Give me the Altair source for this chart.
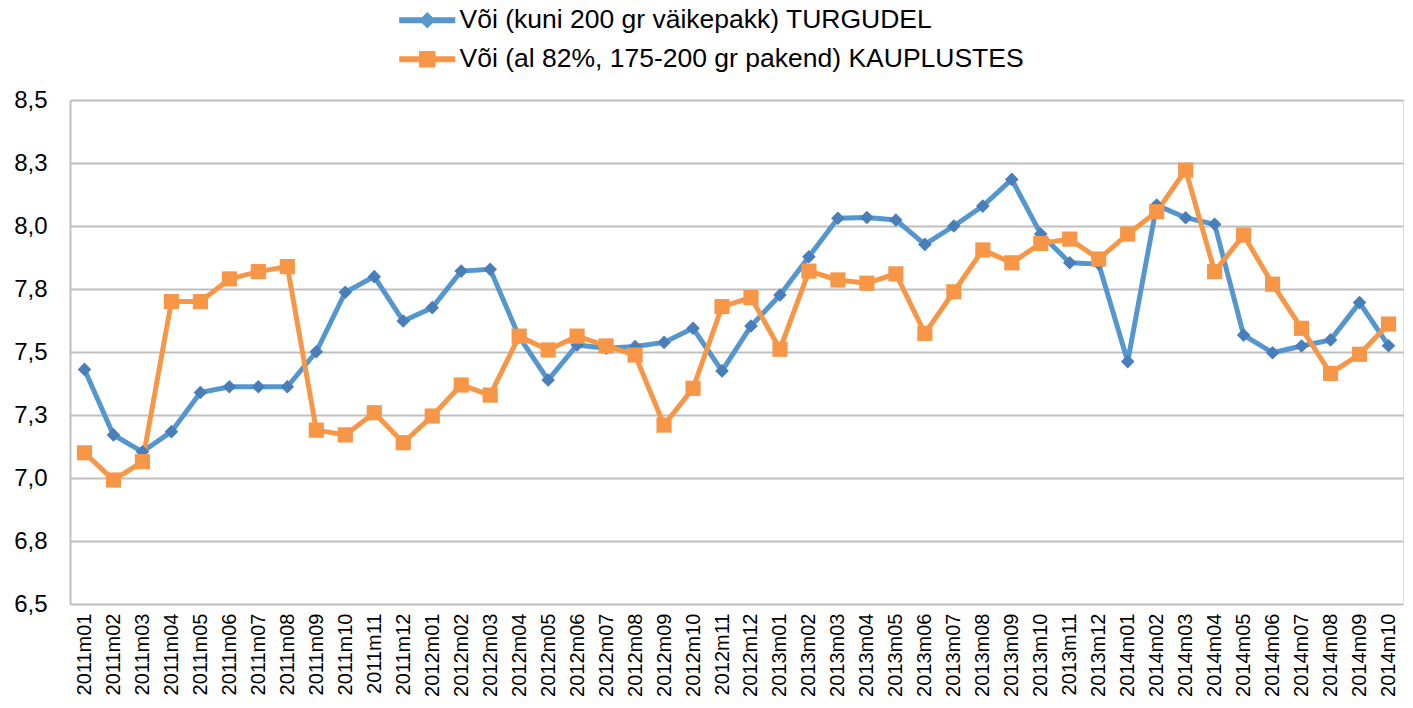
import altair as alt
import pandas as pd

months = [
    "2011m01", "2011m02", "2011m03", "2011m04", "2011m05", "2011m06", "2011m07", "2011m08",
    "2011m09", "2011m10", "2011m11", "2011m12",
    "2012m01", "2012m02", "2012m03", "2012m04", "2012m05", "2012m06", "2012m07", "2012m08",
    "2012m09", "2012m10", "2012m11", "2012m12",
    "2013m01", "2013m02", "2013m03", "2013m04", "2013m05", "2013m06", "2013m07", "2013m08",
    "2013m09", "2013m10", "2013m11", "2013m12",
    "2014m01", "2014m02", "2014m03", "2014m04", "2014m05", "2014m06", "2014m07", "2014m08",
    "2014m09", "2014m10",
]

S1 = "Või (kuni 200 gr väikepakk) TURGUDEL"
S2 = "Või (al 82%, 175-200 gr pakend) KAUPLUSTES"

turg = [
    7.431, 7.171, 7.104, 7.184, 7.339, 7.362, 7.362, 7.362, 7.501, 7.737, 7.799, 7.623,
    7.676, 7.821, 7.828, 7.560, 7.389, 7.528, 7.515, 7.522, 7.538, 7.594, 7.425, 7.603,
    7.726, 7.878, 8.031, 8.034, 8.024, 7.927, 8.000, 8.079, 8.185, 7.968, 7.854, 7.849,
    7.462, 8.083, 8.033, 8.007, 7.567, 7.497, 7.524, 7.548, 7.696, 7.525,
]
kauplus = [
    7.100, 6.992, 7.065, 7.700, 7.700, 7.790, 7.819, 7.839, 7.190, 7.171, 7.259, 7.140,
    7.246, 7.369, 7.329, 7.563, 7.508, 7.563, 7.524, 7.488, 7.210, 7.356, 7.680, 7.716,
    7.511, 7.821, 7.786, 7.773, 7.810, 7.574, 7.739, 7.905, 7.854, 7.931, 7.948, 7.869,
    7.968, 8.057, 8.222, 7.819, 7.964, 7.769, 7.594, 7.415, 7.491, 7.611,
]

y_ticks = [6.5, 6.75, 7.0, 7.25, 7.5, 7.75, 8.0, 8.25, 8.5]

df = pd.concat([
    pd.DataFrame({"kuu": months, "hind": turg, "seeria": S1}),
    pd.DataFrame({"kuu": months, "hind": kauplus, "seeria": S2}),
])

FONT = "Liberation Sans"
LINE_COLORS = ["#5596cd", "#f79646"]
MARK_COLORS = ["#4a7ebb", "#f79646"]

# legend glyphs: line segment with the series marker
P1 = "M-2.55,-0.27L2.55,-0.27L2.55,0.27L-2.55,0.27Z M0,-0.75L0.75,0L0,0.75L-0.75,0Z"
P2 = "M-2.55,-0.27L2.55,-0.27L2.55,0.27L-2.55,0.27Z M-0.75,-0.75L0.75,-0.75L0.75,0.75L-0.75,0.75Z"

x_enc = alt.X(
    "kuu:N",
    sort=months,
    scale=alt.Scale(type="point", padding=0.5),
    axis=alt.Axis(
        title=None, labelAngle=-90, labelFont=FONT, labelFontSize=20,
        labelColor="black", ticks=False, domain=False, grid=False,
        labelPadding=9, labelAlign="right", labelBaseline="middle",
    ),
)
y_enc = alt.Y(
    "hind:Q",
    scale=alt.Scale(domain=[6.5, 8.5], nice=False, zero=False),
    axis=alt.Axis(
        title=None, values=y_ticks,
        labelExpr="replace(format(datum.value, '.1f'), '.', ',')",
        labelFont=FONT, labelFontSize=24, labelColor="black", labelPadding=23,
        ticks=False, domain=True, domainColor="#bfbfbf", domainWidth=2,
        grid=True, gridColor="#bfbfbf", gridWidth=1.8,
    ),
)

legend = alt.Legend(
    orient="none", legendX=344, legendY=-93, direction="vertical", title=None,
    labelFont=FONT, labelFontSize=26.5, labelColor="black", labelLimit=0,
    symbolSize=484, labelOffset=19, rowPadding=12, padding=0,
    symbolOpacity=1, symbolStrokeWidth=0,
)

lines = alt.Chart(df).mark_line(strokeWidth=5).encode(
    x=x_enc,
    y=y_enc,
    color=alt.Color("seeria:N", scale=alt.Scale(domain=[S1, S2], range=LINE_COLORS), legend=None),
)

points = alt.Chart(df).mark_point(filled=True, opacity=1).encode(
    x=x_enc,
    y=y_enc,
    fill=alt.Fill("seeria:N", scale=alt.Scale(domain=[S1, S2], range=MARK_COLORS), legend=None),
    shape=alt.Shape("seeria:N", scale=alt.Scale(domain=[S1, S2], range=["diamond", "square"]), legend=None),
    size=alt.Size("seeria:N", scale=alt.Scale(domain=[S1, S2], range=[185, 230]), legend=None),
)

legend_layer = alt.Chart(df).transform_filter("false").mark_point(filled=True, opacity=1).encode(
    x=x_enc,
    y=y_enc,
    fill=alt.Fill("seeria:N", scale=alt.Scale(domain=[S1, S2], range=LINE_COLORS), legend=legend),
    shape=alt.Shape("seeria:N", scale=alt.Scale(domain=[S1, S2], range=[P1, P2]), legend=legend),
)

chart = alt.layer(lines, points, legend_layer).resolve_scale(
    color="independent", fill="independent", shape="independent", size="independent"
).properties(
    width=1333,
    height=504,
    autosize=alt.AutoSizeParams(type="none"),
    padding={"left": 62, "top": 92, "right": 2, "bottom": 92},
).configure_view(
    stroke="#bfbfbf", strokeWidth=2,
).configure(background="white")

chart.save("out.html", embed_options={"renderer": "svg", "actions": False})
